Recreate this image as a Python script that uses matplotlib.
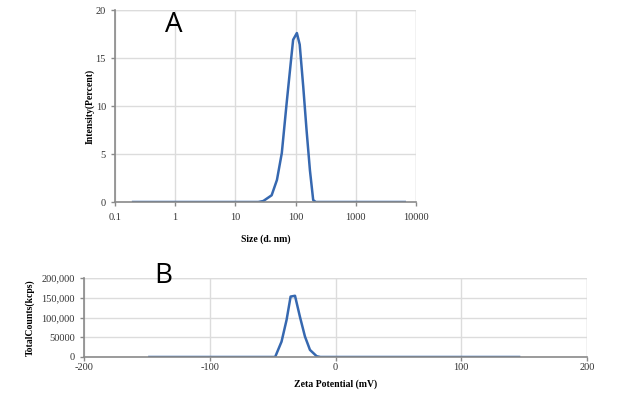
import matplotlib
matplotlib.use('Agg')
import matplotlib.pyplot as plt

# A: size distribution by intensity
size_nm = [0.2, 1, 10, 24, 29, 40, 49, 59, 71, 84, 91, 105, 117, 134, 152, 173, 196, 216, 300, 1000, 6500]
intensity = [0, 0, 0, 0, 0.1, 0.7, 2.3, 5.1, 10.3, 14.8, 16.9, 17.6, 16.4, 12.0, 7.5, 3.3, 0.2, 0, 0, 0, 0]
size_ticks = [0.1, 1, 10, 100, 1000, 10000]
size_ticklabels = ['0.1', '1', '10', '100', '1000', '10000']
int_ticks = [0, 5, 10, 15, 20]

# B: zeta potential distribution
zeta_mv = [-148, -100, -60, -48, -42.9, -38.9, -35.7, -32.2, -28.3, -24.3, -20.3, -15, -12, 0, 50, 100, 146]
counts = [0, 0, 0, 0, 39000, 94000, 153000, 155000, 102000, 52000, 18000, 2000, 0, 0, 0, 0, 0]
zeta_ticks = [-200, -100, 0, 100, 200]
count_ticks = [0, 50000, 100000, 150000, 200000]
count_ticklabels = ['0', '50000', '100,000', '150,000', '200,000']

line_col = '#3668b0'
grid_col = '#dcdcdc'
axis_col = '#8a8a8a'
serif = ['Liberation Serif', 'DejaVu Serif']

fig = plt.figure(figsize=(6.24, 3.94), dpi=100)


def style(ax):
    for s in ['top', 'right']:
        ax.spines[s].set_visible(False)
    for s in ['left', 'bottom']:
        ax.spines[s].set_color(axis_col)
        ax.spines[s].set_linewidth(1.2)
    ax.grid(True, color=grid_col, linewidth=1.0)
    ax.set_axisbelow(True)
    ax.tick_params(axis='both', colors=axis_col, labelcolor='#333333', length=3,
                   width=1, labelsize=7.5)
    for lab in ax.get_xticklabels() + ax.get_yticklabels():
        lab.set_family(serif)


# panel A
axA = fig.add_axes([115 / 624, 1 - 202 / 394, 301 / 624, 192 / 394])
axA.plot(size_nm, intensity, color=line_col, linewidth=1.8)
axA.set_xscale('log')
axA.set_xlim(0.1, 10000)
axA.set_ylim(0, 20)
axA.set_xticks(size_ticks)
axA.set_xticklabels(size_ticklabels)
axA.minorticks_off()
axA.set_yticks(int_ticks)
style(axA)
axA.tick_params(axis='x', pad=5)
# right and top edge gridlines
axA.axvline(10000, color=grid_col, linewidth=1.0, zorder=0)
axA.axhline(20, color=grid_col, linewidth=1.0, zorder=0)
axA.set_xlabel('Size (d. nm)', family=serif, fontsize=7, fontweight='bold', labelpad=9)
axA.set_ylabel('Intensity(Percent)', family=serif, fontsize=7, fontweight='bold', labelpad=1)

# panel B
axB = fig.add_axes([84 / 624, 1 - 357 / 394, 503 / 624, 79 / 394])
axB.plot(zeta_mv, counts, color=line_col, linewidth=1.8)
axB.set_xlim(-200, 200)
axB.set_ylim(0, 200000)
axB.set_xticks(zeta_ticks)
axB.set_xticklabels([str(t) for t in zeta_ticks])
axB.set_yticks(count_ticks)
axB.set_yticklabels(count_ticklabels)
style(axB)
axB.axvline(200, color=grid_col, linewidth=1.0, zorder=0)
axB.axhline(200000, color=grid_col, linewidth=1.0, zorder=0)
axB.tick_params(axis='x', pad=1)
axB.set_xlabel('Zeta Potential (mV)', family=serif, fontsize=7, fontweight='bold', labelpad=6)
axB.set_ylabel('TotalCounts(kcps)', family=serif, fontsize=7, fontweight='bold', labelpad=5)

fig.text(174 / 624, 1 - 25 / 394, 'A', fontsize=20, ha='center', va='center',
         family=['Open Sans', 'DejaVu Sans'])
fig.text(163 / 624, 1 - 276 / 394, 'B', fontsize=20, ha='center', va='center',
         family=['Open Sans', 'DejaVu Sans'])

fig.savefig('out.png', dpi=100)
